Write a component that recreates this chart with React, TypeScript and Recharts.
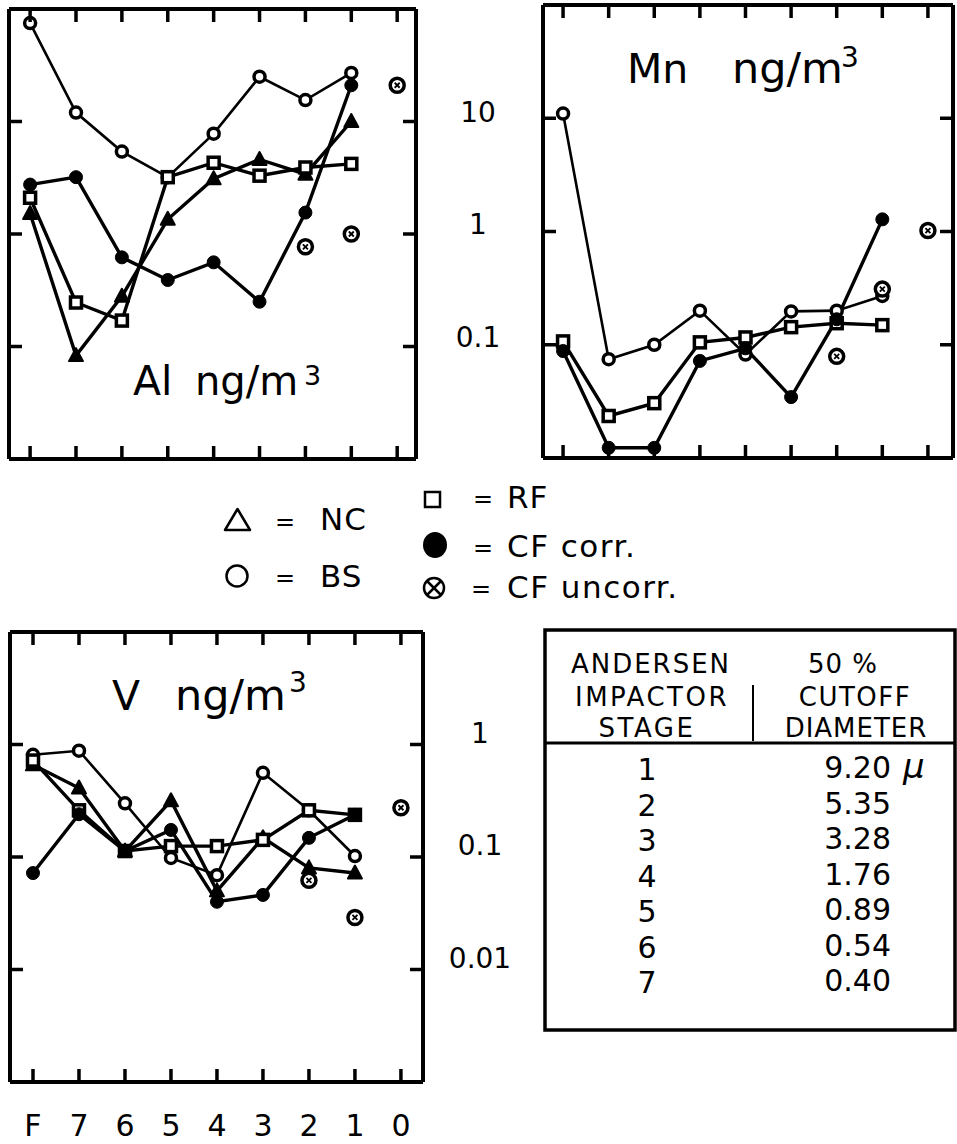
import React from 'react';
import { ComposedChart, Line, XAxis, YAxis } from 'recharts';

const FONT = "'DejaVu Sans', sans-serif";

// Andersen impactor stages (x axis)
const stages = ['F', '7', '6', '5', '4', '3', '2', '1', '0'];

// Al ng/m3
const alNC = [1.52, 0.083, 0.28, 1.35, 3.1, 4.6, 3.4, 10, null];
const alBS = [75, 12, 5.4, 3.2, 7.8, 25, 15.5, 27, null];
const alRF = [2.1, 0.246, 0.17, 3.2, 4.3, 3.3, 3.9, 4.2, null];
const alCFcorr = [2.75, 3.2, 0.62, 0.39, 0.56, 0.25, 1.55, 21, null];
const alCFuncorr = [null, null, null, null, null, null, 0.77, 1.0, 21];

// Mn ng/m3
const mnBS = [11, 0.0745, 0.1, 0.2, 0.082, 0.197, 0.2, 0.27, null];
const mnRF = [0.107, 0.0235, 0.0305, 0.105, 0.116, 0.143, 0.155, 0.149, null];
const mnCFcorr = [0.088, 0.0123, 0.0123, 0.072, 0.093, 0.0345, 0.168, 1.28, null];
const mnCFuncorr = [null, null, null, null, null, null, 0.079, 0.31, 1.02];

// V ng/m3
const vNC = [0.66, 0.41, 0.113, 0.316, 0.05, 0.148, 0.08, 0.072, null];
const vBS = [0.81, 0.88, 0.3, 0.098, 0.069, 0.56, 0.26, 0.102, null];
const vRF = [0.72, 0.26, 0.113, 0.125, 0.125, 0.142, 0.26, 0.237, null];
const vCFcorr = [0.072, 0.24, 0.113, 0.174, 0.04, 0.046, 0.148, 0.237, null];
const vCFuncorr = [null, null, null, null, null, null, 0.062, 0.029, 0.274];

// y tick values / labels
const topTicks = [0.1, 1, 10];
const topTickLabels = ['0.1', '1', '10'];
const vTicks = [0.01, 0.1, 1];
const vTickLabels = ['0.01', '0.1', '1'];

// table
const tableStages = ['1', '2', '3', '4', '5', '6', '7'];
const tableCutoffs = ['9.20', '5.35', '3.28', '1.76', '0.89', '0.54', '0.40'];

const xIdx = stages.map((_, i) => i);

function buildRows(s: Record<string, (number | null)[]>) {
  return stages.map((st, i) => {
    const r: any = { x: i, stage: st };
    Object.keys(s).forEach((k) => (r[k] = s[k][i]));
    return r;
  });
}

const alRows = buildRows({ nc: alNC, bs: alBS, rf: alRF, cfc: alCFcorr, cfu: alCFuncorr });
const mnRows = buildRows({ bs: mnBS, rf: mnRF, cfc: mnCFcorr, cfu: mnCFuncorr });
const vRows = buildRows({ nc: vNC, bs: vBS, rf: vRF, cfc: vCFcorr, cfu: vCFuncorr });

const TL = 13;
const TW = 3.5;
const AX = { stroke: '#000', strokeWidth: 4 };

const bad = (p: any) => p.cy == null || isNaN(p.cy) || p.value == null;
const k = (p: any) => `d${p.index}`;

const dotBS = (p: any) =>
  bad(p) ? <g key={k(p)} /> : <circle key={k(p)} cx={p.cx} cy={p.cy} r={5.5} fill="#fff" stroke="#000" strokeWidth={3.5} />;
const dotCF = (p: any) =>
  bad(p) ? <g key={k(p)} /> : <circle key={k(p)} cx={p.cx} cy={p.cy} r={6.5} fill="#000" stroke="#000" strokeWidth={1} />;
const dotRF = (p: any) =>
  bad(p) ? <g key={k(p)} /> : <rect key={k(p)} x={p.cx - 5.5} y={p.cy - 5.5} width={11} height={11} fill="#fff" stroke="#000" strokeWidth={3.5} />;
const dotNC = (p: any) =>
  bad(p) ? (
    <g key={k(p)} />
  ) : (
    <polygon
      key={k(p)}
      points={`${p.cx},${p.cy - 7.5} ${p.cx - 7},${p.cy + 5.5} ${p.cx + 7},${p.cy + 5.5}`}
      fill="#000"
      stroke="#000"
      strokeWidth={2}
      strokeLinejoin="round"
    />
  );
const dotCFU = (p: any) =>
  bad(p) ? (
    <g key={k(p)} />
  ) : (
    <g key={k(p)}>
      <circle cx={p.cx} cy={p.cy} r={7} fill="#fff" stroke="#000" strokeWidth={3.5} />
      <line x1={p.cx - 2.5} y1={p.cy - 2.5} x2={p.cx + 2.5} y2={p.cy + 2.5} stroke="#000" strokeWidth={1.8} />
      <line x1={p.cx - 2.5} y1={p.cy + 2.5} x2={p.cx + 2.5} y2={p.cy - 2.5} stroke="#000" strokeWidth={1.8} />
    </g>
  );

const LeftTick = (p: any) => <line x1={p.x} x2={p.x + TL} y1={p.y} y2={p.y} stroke="#000" strokeWidth={TW} />;
const TopTick = (p: any) => <line x1={p.x} x2={p.x} y1={p.y} y2={p.y + TL} stroke="#000" strokeWidth={TW} />;

const makeRightTick = (labels: string[] | null, values: number[], dx: number, dy: number) => (p: any) => {
  const idx = values.findIndex((v) => Math.abs(v - p.payload.value) < 1e-9);
  return (
    <g>
      <line x1={p.x} x2={p.x - TL} y1={p.y} y2={p.y} stroke="#000" strokeWidth={TW} />
      {labels && idx >= 0 ? (
        <text x={p.x + dx} y={p.y + dy} textAnchor="middle" fontSize={28} fontFamily={FONT} fill="#000">
          {labels[idx]}
        </text>
      ) : null}
    </g>
  );
};

const makeBottomTick = (labels: boolean) => (p: any) => (
  <g>
    <line x1={p.x} x2={p.x} y1={p.y} y2={p.y - TL} stroke="#000" strokeWidth={TW} />
    {labels ? (
      <text x={p.x} y={p.y + 54} textAnchor="middle" fontSize={30} fontFamily={FONT} fill="#000">
        {stages[p.payload.value]}
      </text>
    ) : null}
  </g>
);

type PanelProps = {
  rows: any[];
  keys: string[];
  yDomain: [number, number];
  yTicks: number[];
  yLabels: string[] | null;
  xDomain: [number, number];
  plotW: number;
  plotH: number;
  rightW: number;
  bottomH: number;
  xLabels: boolean;
  yLabelDx: number;
  yLabelDy: number;
};

function Panel(pp: PanelProps) {
  const M = 5;
  const styles: Record<string, any> = {
    bs: { w: 2.6, dot: dotBS },
    nc: { w: 3.4, dot: dotNC },
    rf: { w: 3.4, dot: dotRF },
    cfc: { w: 3.4, dot: dotCF },
  };
  return (
    <ComposedChart
      width={M + pp.plotW + pp.rightW}
      height={M + pp.plotH + pp.bottomH}
      data={pp.rows}
      margin={{ top: 0, left: 0, right: 0, bottom: 0 }}
    >
      <XAxis
        xAxisId="b"
        dataKey="x"
        type="number"
        orientation="bottom"
        domain={pp.xDomain}
        allowDataOverflow
        ticks={xIdx}
        interval={0}
        height={pp.bottomH}
        axisLine={AX}
        tickLine={false}
        tickSize={0}
        tickMargin={0}
        tick={makeBottomTick(pp.xLabels)}
      />
      <XAxis
        xAxisId="t"
        dataKey="x"
        type="number"
        orientation="top"
        domain={pp.xDomain}
        allowDataOverflow
        ticks={xIdx}
        interval={0}
        height={M}
        axisLine={AX}
        tickLine={false}
        tickSize={0}
        tickMargin={0}
        tick={TopTick}
      />
      <YAxis
        yAxisId="l"
        type="number"
        scale="log"
        orientation="left"
        domain={pp.yDomain}
        allowDataOverflow
        ticks={pp.yTicks}
        interval={0}
        width={M}
        axisLine={AX}
        tickLine={false}
        tickSize={0}
        tickMargin={0}
        tick={LeftTick}
      />
      <YAxis
        yAxisId="r"
        type="number"
        scale="log"
        orientation="right"
        domain={pp.yDomain}
        allowDataOverflow
        ticks={pp.yTicks}
        interval={0}
        width={pp.rightW}
        axisLine={AX}
        tickLine={false}
        tickSize={0}
        tickMargin={0}
        tick={makeRightTick(pp.yLabels, pp.yTicks, pp.yLabelDx, pp.yLabelDy)}
      />
      {pp.keys
        .filter((kk) => kk !== 'cfu')
        .map((kk) => (
          <Line
            key={kk}
            xAxisId="b"
            yAxisId="l"
            dataKey={kk}
            type="linear"
            stroke="#000"
            strokeWidth={styles[kk].w}
            dot={styles[kk].dot}
            activeDot={false}
            isAnimationActive={false}
          />
        ))}
      <Line
        xAxisId="b"
        yAxisId="l"
        dataKey="cfu"
        stroke="transparent"
        strokeWidth={0}
        dot={dotCFU}
        activeDot={false}
        isAnimationActive={false}
      />
    </ComposedChart>
  );
}

function Overlay() {
  const t = (x: number, y: number, s: string, size: number, extra: any = {}) => (
    <text x={x} y={y} fontSize={size} fontFamily={FONT} fill="#000" {...extra}>
      {s}
    </text>
  );
  return (
    <svg width={957} height={1144} style={{ position: 'absolute', left: 0, top: 0, pointerEvents: 'none' }}>
      {/* panel titles */}
      {t(133, 395, 'Al', 41)}
      {t(195, 395, 'ng/m', 40)}
      {t(304, 385, '3', 27)}
      {t(627, 83, 'Mn', 41)}
      {t(732, 83, 'ng/m', 43)}
      {t(841, 67, '3', 28)}
      {t(112, 710, 'V', 41)}
      {t(175, 710, 'ng/m', 43)}
      {t(289, 692, '3', 28)}

      {/* legend */}
      <polygon points="237.5,509 225,530 250,530" fill="#fff" stroke="#000" strokeWidth={2.5} strokeLinejoin="round" />
      {t(285, 530, '=', 24, { textAnchor: 'middle' })}
      {t(320, 530, 'NC', 31, { letterSpacing: 1 })}
      <circle cx={237} cy={576} r={10.5} fill="#fff" stroke="#000" strokeWidth={2.5} />
      {t(285, 586, '=', 24, { textAnchor: 'middle' })}
      {t(320, 587, 'BS', 31, { letterSpacing: 1 })}
      <rect x={425} y={492} width={15} height={15} fill="#fff" stroke="#000" strokeWidth={2.5} />
      {t(483, 507, '=', 24, { textAnchor: 'middle' })}
      {t(507, 508, 'RF', 31, { letterSpacing: 1 })}
      <ellipse cx={435} cy={545} rx={12} ry={13} fill="#000" />
      {t(483, 556, '=', 24, { textAnchor: 'middle' })}
      {t(507, 557, 'CF corr.', 31, { letterSpacing: 1.5 })}
      <circle cx={434} cy={588} r={10} fill="#fff" stroke="#000" strokeWidth={2.5} />
      <line x1={427} y1={581} x2={441} y2={595} stroke="#000" strokeWidth={2.5} />
      <line x1={427} y1={595} x2={441} y2={581} stroke="#000" strokeWidth={2.5} />
      {t(481, 597, '=', 24, { textAnchor: 'middle' })}
      {t(507, 598, 'CF uncorr.', 31, { letterSpacing: 1.5 })}

      {/* table */}
      <rect x={545} y={630} width={410} height={400} fill="none" stroke="#000" strokeWidth={3.5} />
      <line x1={545} y1={743} x2={955} y2={743} stroke="#000" strokeWidth={3} />
      <line x1={753} y1={685} x2={753} y2={741} stroke="#000" strokeWidth={2} />
      {t(651, 673, 'ANDERSEN', 26, { textAnchor: 'middle', letterSpacing: 2 })}
      {t(652, 706, 'IMPACTOR', 26, { textAnchor: 'middle', letterSpacing: 2.5 })}
      {t(647, 737, 'STAGE', 26, { textAnchor: 'middle', letterSpacing: 2.5 })}
      {t(843, 673, '50 %', 26, { textAnchor: 'middle', letterSpacing: 1 })}
      {t(855, 706, 'CUTOFF', 26, { textAnchor: 'middle', letterSpacing: 1.5 })}
      {t(856, 737, 'DIAMETER', 26, { textAnchor: 'middle', letterSpacing: 1 })}
      {tableStages.map((s, i) => (
        <g key={s}>
          {t(647, 780 + i * 35.5, s, 30, { textAnchor: 'middle' })}
          {t(891, 778 + i * 35.5, tableCutoffs[i], 30, { textAnchor: 'end' })}
        </g>
      ))}
      {t(903, 778, 'μ', 34, { fontStyle: 'italic' })}
    </svg>
  );
}

export default function App() {
  return (
    <div
      style={{
        position: 'absolute',
        left: 0,
        top: 0,
        width: 957,
        height: 1144,
        background: '#fff',
        overflow: 'hidden',
        fontFamily: FONT,
      }}
    >
      <div style={{ position: 'absolute', left: 4, top: 4 }}>
        <Panel
          rows={alRows}
          keys={['bs', 'nc', 'rf', 'cfc', 'cfu']}
          yDomain={[0.01, 100]}
          yTicks={topTicks}
          yLabels={topTickLabels}
          xDomain={[-0.46, 8.41]}
          plotW={407}
          plotH={450}
          rightW={110}
          bottomH={5}
          xLabels={false}
          yLabelDx={62}
          yLabelDy={0}
        />
      </div>
      <div style={{ position: 'absolute', left: 538, top: 0 }}>
        <Panel
          rows={mnRows}
          keys={['bs', 'rf', 'cfc', 'cfu']}
          yDomain={[0.01, 100]}
          yTicks={topTicks}
          yLabels={null}
          xDomain={[-0.44, 8.55]}
          plotW={410}
          plotH={453}
          rightW={4}
          bottomH={5}
          xLabels={false}
          yLabelDx={0}
          yLabelDy={0}
        />
      </div>
      <div style={{ position: 'absolute', left: 5, top: 627 }}>
        <Panel
          rows={vRows}
          keys={['bs', 'nc', 'rf', 'cfc', 'cfu']}
          yDomain={[0.001, 10]}
          yTicks={vTicks}
          yLabels={vTickLabels}
          xDomain={[-0.5, 8.48]}
          plotW={413}
          plotH={450}
          rightW={110}
          bottomH={62}
          xLabels={true}
          yLabelDx={57}
          yLabelDy={-2}
        />
      </div>
      <Overlay />
    </div>
  );
}
